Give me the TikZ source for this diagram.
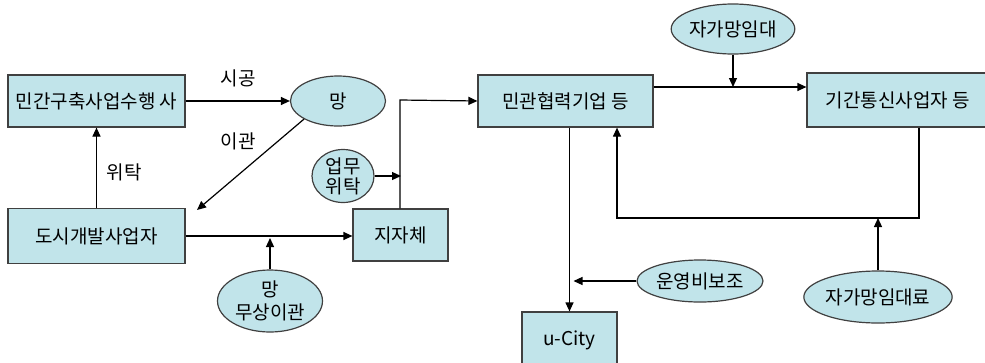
\documentclass[tikz,border=0pt]{standalone}
\usepackage{fontspec}
\setmainfont{Noto Sans CJK KR}
\usetikzlibrary{arrows.meta,shapes.geometric}
\definecolor{boxfill}{RGB}{193,228,234}
\definecolor{boxline}{RGB}{64,64,64}
\tikzset{
  base/.style={draw=boxline,line width=1.2pt,fill=boxfill,inner sep=0pt,font=\fontsize{19}{21}\selectfont,align=center},
  rbox/.style={base,rectangle},
  ell/.style={base,ellipse},
  arr/.style={line width=1.2pt,-{Triangle[length=9pt,width=8pt]}},
  lbl/.style={font=\fontsize{19}{21}\selectfont,inner sep=0pt}
}
\begin{document}
\begin{tikzpicture}[x=1pt,y=-1pt]
\useasboundingbox (0,0) rectangle (985,362);
\fill[white] (0,0) rectangle (985,362);
% boxes
\node[rbox,minimum width=177pt,minimum height=52pt] (b1) at (96.5,101) {민간구축사업수행 사};
\node[rbox,minimum width=177pt,minimum height=55pt] (b2) at (96.5,236) {도시개발사업자};
\node[rbox,minimum width=95pt,minimum height=52pt] (jj) at (400.5,235) {지자체};
\node[rbox,minimum width=175pt,minimum height=52pt] (mk) at (565.5,101) {민관협력기업 등};
\node[rbox,minimum width=182pt,minimum height=54pt] (gg) at (898,100) {기간통신사업자 등};
\node[rbox,minimum width=95pt,minimum height=56pt] (uc) at (569.5,340) {u-City};
% ellipses
\node[ell,minimum width=95pt,minimum height=50pt] (mang) at (338,101) {망};
\node[ell,minimum width=105pt,minimum height=62pt,font=\fontsize{19}{23}\selectfont] (mm) at (270,301) {망\\무상이관};
\node[ell,minimum width=62pt,minimum height=53pt,font=\fontsize{19}{20}\selectfont] (uw) at (343,176) {업무\\위탁};
\node[ell,minimum width=116pt,minimum height=50pt] (jm) at (733,29) {자가망임대};
\node[ell,minimum width=126pt,minimum height=42pt] (uy) at (700,281) {운영비보조};
\node[ell,minimum width=127pt,minimum height=52pt] (jr) at (878,297) {자가망임대료};
% labels
\node[lbl] (l1) at (238,78) {시공};
\node[lbl] (l2) at (238,141) {이관};
\node[lbl] (l3) at (124,172) {위탁};
% helper coordinates
\coordinate (iend) at (197,210);
\coordinate (mmend) at (270,238);
\coordinate (corner) at (400,100);
\coordinate (uwend) at (401,176);
\coordinate (top) at (0,87);
\coordinate (loopR) at (919,218);
\coordinate (loopL) at (617,218);
% connectors
\draw[arr] (b1.east) -- (mang.west);
\draw[arr] (mang.south west) -- (iend);
\draw[arr] (b2.north) -- (b1.south);
\draw[arr] (b2.east) -- (b2.east -| jj.west);
\draw[arr] (mm.north) -- (mmend);
\draw[arr] (jj.north -| corner) -- (corner) -- (mk.west);
\draw[arr] (uw.east) -- (uwend);
\draw[arr] (mk.east |- top) -- (gg.west |- top);
\draw[arr] (jm.south) -- (jm.south |- top);
\draw[arr] (uc.north |- mk.south) -- (uc.north);
\draw[arr] (uy.west) -- ([xshift=4pt]uy.west -| uc.north);
\draw[arr] (loopR |- gg.south) -- (loopR) -- (loopL) -- (loopL |- mk.south);
\draw[arr] (jr.north) -- (jr.north |- loopR);
\end{tikzpicture}
\end{document}
